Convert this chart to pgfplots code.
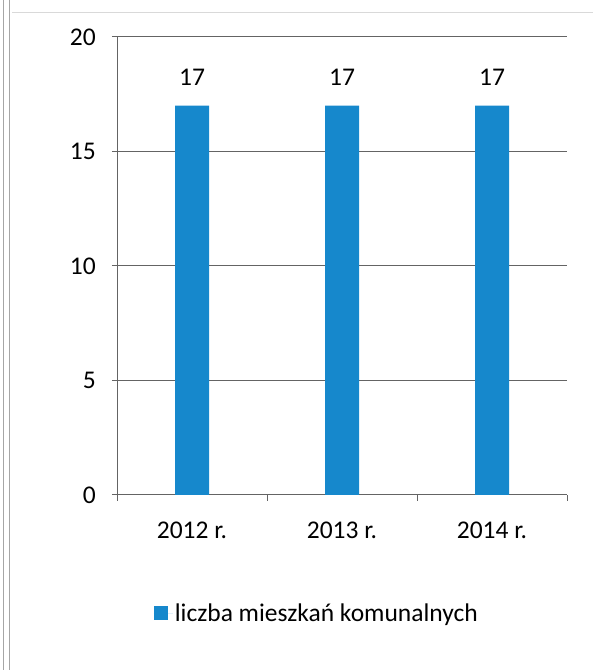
\documentclass[border=0pt]{standalone}
\usepackage{pgfplots}
\pgfplotsset{compat=1.18}
\usepackage{fontspec}
\setmainfont{Carlito}
\definecolor{barblue}{RGB}{22,136,204}
\definecolor{linegray}{RGB}{100,100,100}

\begin{document}
\begin{tikzpicture}[font=\fontsize{25.5bp}{30bp}\selectfont]
% page edges of the scan
\path[use as bounding box] (0bp,0bp) rectangle (593bp,670bp);
\draw[gray!70, line width=1bp] (3bp,0bp) -- (3bp,670bp);
\draw[gray!70, line width=1bp] (9.5bp,0bp) -- (9.5bp,670bp);
\draw[gray!30, line width=0.8bp] (12bp,658bp) -- (593bp,658bp);

\begin{axis}[
    at={(117bp,175bp)}, anchor=south west,
    scale only axis,
    width=450bp, height=458bp,
    xmin=0.5, xmax=3.5,
    ymin=0, ymax=20,
    axis x line*=bottom, axis y line*=left,
    axis line style={linegray, line width=1bp, -},
    xtick={1,2,3},
    xticklabels={2012 r.,2013 r.,2014 r.},
    minor xtick={0.5,1.5,2.5,3.5},
    ytick={0,5,10,15,20},
    tick align=outside,
    major tick length=5bp, minor tick length=6bp,
    tick style={linegray, line width=1bp},
    major x tick style={draw=none},
    ymajorgrids=true,
    grid style={linegray, line width=1bp},
    /pgf/number format/assume math mode=true,
    yticklabel style={anchor=east, inner sep=0pt, xshift=-16bp},
    xticklabel style={anchor=north, inner sep=0pt, yshift=-22bp},
    legend style={at={(0.444,-0.258)}, anchor=center, draw=none, fill=none,
        font=\fontsize{25.5bp}{30bp}\selectfont},
    legend image code/.code={
        \fill[barblue] (0bp,-7bp) rectangle (14bp,7bp);
        \path (0bp,0bp) -- (19bp,0bp);},
]
\addplot[ybar, bar width=34bp, fill=barblue, draw=none,
    nodes near coords,
    nodes near coords style={inner sep=0pt, anchor=south, yshift=20bp, text=black}]
    coordinates {(1,17) (2,17) (3,17)};
\legend{liczba mieszkań komunalnych}
\end{axis}
\end{tikzpicture}
\end{document}
